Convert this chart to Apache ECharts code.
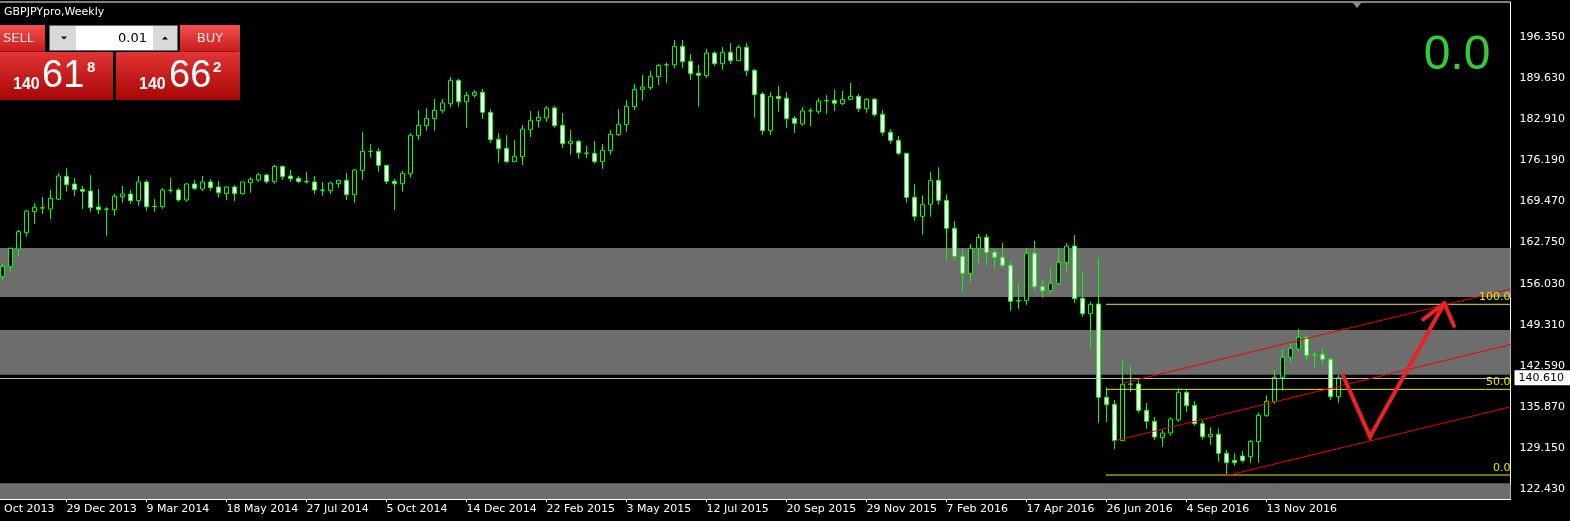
<!DOCTYPE html>
<html>
<head>
<meta charset="utf-8">
<script src="https://cdn.jsdelivr.net/npm/echarts@6/dist/echarts.min.js"></script>
<style>
html,body{margin:0;padding:0;background:#000;}
#chart{width:1570px;height:521px;}
</style>
</head>
<body>
<div id="chart"></div>
<script>
// ---- data (weekly GBPJPY) ----
const firstWeek = '2013-10-20';   // first category (label partly cut off)
const leadEmpty = 2;              // empty weeks before first candle
const totalWeeks = 191;           // categories incl. future space
const opens = [157.17,158.80,161.70,164.37,167.81,168.45,168.25,169.84,173.60,172.34,171.47,171.19,168.58,168.25,168.13,170.26,170.70,169.61,172.67,168.69,168.62,171.31,171.36,169.72,172.34,171.52,172.67,171.85,170.75,171.85,170.75,172.55,172.99,173.81,172.72,175.24,173.65,173.27,172.72,172.67,171.36,171.24,172.39,172.94,170.59,174.58,177.69,177.69,175.40,172.78,172.39,174.03,180.25,181.88,183.03,184.34,185.48,189.31,185.81,186.86,187.35,184.07,179.66,178.18,175.99,176.81,181.23,182.70,183.14,184.78,181.95,178.94,179.33,177.40,177.36,175.99,177.79,180.41,182.05,184.99,187.84,188.10,189.90,191.86,191.86,194.88,192.42,190.46,190.06,193.78,192.03,193.90,192.52,194.71,190.95,187.07,181.06,186.69,186.37,183.09,182.16,184.29,184.17,185.97,186.04,185.48,186.20,186.69,184.66,186.20,183.75,180.80,179.49,177.36,170.16,167.05,169.02,172.94,169.67,165.09,160.51,157.72,161.82,163.62,161.16,160.34,159.04,153.24,153.24,161.00,155.53,154.87,156.02,159.46,162.19,153.63,151.11,152.70,137.43,136.28,130.33,139.61,139.61,135.30,133.50,130.82,131.59,133.71,138.25,136.12,133.11,130.98,131.37,128.26,127.12,127.82,127.71,130.17,134.41,136.71,140.70,143.98,145.33,147.25,144.40,144.47,143.65,137.53];
const closes = [158.80,161.82,164.53,167.92,168.53,168.40,170.00,173.65,172.23,171.41,171.15,168.46,168.13,168.22,170.33,170.70,169.61,172.67,168.62,168.66,171.36,171.33,169.72,172.34,171.64,172.67,171.73,170.92,171.85,170.75,172.67,173.11,173.86,172.72,175.24,173.55,173.20,172.72,172.67,171.36,171.33,172.50,172.94,170.59,174.63,177.69,177.66,175.40,172.78,172.39,174.09,180.31,181.95,183.09,184.40,185.60,189.31,185.81,186.86,187.35,184.07,179.59,178.12,175.99,176.87,181.34,182.77,183.26,184.78,181.88,178.94,179.33,177.46,177.37,175.99,177.86,180.47,182.11,185.06,187.84,188.21,189.97,191.77,191.83,194.88,192.36,190.39,190.13,193.78,192.03,193.90,192.52,194.71,190.88,186.95,181.06,186.69,186.30,183.03,182.27,184.29,184.32,185.92,186.00,185.55,186.20,186.69,184.66,186.20,183.68,180.80,179.49,177.36,170.16,167.05,169.02,172.94,169.67,165.09,160.51,157.72,161.82,163.62,161.16,160.34,159.04,153.14,153.21,161.00,155.53,154.87,156.09,159.53,162.19,153.57,151.11,152.65,137.43,136.22,130.33,139.56,139.58,135.30,133.50,130.93,131.59,133.88,138.25,136.05,133.11,130.98,131.37,128.26,126.73,126.73,127.05,130.23,134.48,136.77,140.70,143.98,145.45,147.25,144.30,144.37,143.65,137.53,140.61];
const lows = [156.63,157.99,160.44,163.71,165.79,167.43,166.61,169.72,171.08,170.38,168.25,167.76,167.43,163.88,167.15,169.28,169.07,168.79,167.97,167.76,168.25,170.92,169.44,169.44,171.36,171.19,171.24,170.10,169.72,169.56,170.59,170.92,172.72,172.39,172.39,172.99,172.67,172.50,172.45,170.70,170.38,170.70,171.69,169.72,169.28,172.99,176.65,174.35,172.34,168.08,171.08,173.37,179.54,181.06,181.06,183.91,184.94,184.99,181.55,186.46,182.98,179.10,175.83,175.83,175.95,175.45,180.03,181.55,182.49,181.55,178.23,177.13,176.48,176.60,175.66,174.84,177.13,180.20,180.90,184.45,185.97,187.73,188.54,188.92,191.33,191.37,189.36,184.99,189.69,191.65,191.00,191.98,192.45,190.06,183.19,180.36,180.36,184.17,181.55,180.69,181.88,181.83,183.80,183.80,184.29,185.27,186.15,184.12,184.01,183.35,180.25,178.94,177.04,169.28,166.34,164.04,166.99,168.95,159.79,159.90,154.71,156.25,159.45,158.97,158.48,158.71,151.60,151.93,152.58,154.87,153.73,154.38,155.76,158.05,152.91,150.62,145.38,133.27,133.39,128.92,130.30,138.35,134.91,132.29,130.44,129.34,131.15,133.43,135.07,132.78,130.49,129.67,126.89,124.88,126.18,126.73,126.64,126.73,134.25,136.33,138.51,143.09,144.89,143.53,142.34,142.72,136.99,136.55];
const highs = [159.36,161.91,164.81,168.08,169.18,170.21,171.36,174.09,174.96,173.32,172.01,173.81,171.52,168.53,170.70,172.01,171.36,173.65,172.99,169.88,171.69,173.37,171.64,172.50,172.99,173.65,173.11,172.83,171.96,172.18,172.70,173.43,174.19,174.00,175.45,175.34,174.63,173.65,174.30,173.65,172.67,172.72,172.99,174.14,174.80,180.85,178.89,178.23,175.45,173.16,174.47,180.69,184.45,184.78,186.25,186.25,189.85,189.53,187.40,187.73,187.89,184.57,180.69,180.31,179.54,182.00,184.29,184.29,185.11,185.11,183.96,181.18,179.54,178.56,179.38,178.89,181.18,184.61,186.09,188.66,190.18,190.84,192.03,192.26,195.91,195.91,193.62,191.82,194.44,194.06,194.76,195.42,195.09,195.42,191.16,187.40,187.40,188.38,187.40,183.47,184.94,184.78,186.42,186.86,187.73,187.56,188.87,187.07,186.42,186.42,184.45,181.29,180.20,177.41,172.34,170.49,174.30,175.07,170.65,166.28,161.70,162.52,164.15,164.15,161.70,162.68,159.69,155.97,161.86,163.01,156.79,158.59,161.70,162.68,164.00,158.10,153.03,160.23,139.06,136.99,143.37,142.55,140.26,136.50,134.20,132.08,134.15,138.90,138.58,136.82,133.66,132.52,132.36,128.80,128.26,128.64,130.44,134.97,137.74,141.90,145.33,146.37,148.61,147.35,144.89,145.45,143.98,141.13];
const yTicks = [122.43,129.15,135.87,142.59,149.31,156.03,162.75,169.47,176.19,182.91,189.63,196.35];
const yMin = 120.784, yMax = 202.128;
const currentPrice = 140.61;
const zones = [[161.86,153.85],[148.44,141.13],[123.35,120.784]];
const fibLevels = [{name:'100.0', price:152.65},{name:'50.0', price:138.73},{name:'0.0', price:124.71}];
const fibStart = 140;
const channels = [[[142,139.73],[190.5,155.17]],[[141,130.31],[190.5,146.07]],[[155,124.60],[190.5,135.86]]];
const zigzag = [[169.53,141.08],[172.94,130.98],[182.23,152.81]];
const arrowHead = [[179.60,150.19],[182.23,152.81],[183.44,149.10]];

// ---- build ----
const MON = ['Jan','Feb','Mar','Apr','May','Jun','Jul','Aug','Sep','Oct','Nov','Dec'];
const t0 = Date.parse(firstWeek + 'T00:00:00Z');
const categories = [];
for (let i = 0; i < totalWeeks; i++) {
  const d = new Date(t0 + i * 7 * 86400000);
  categories.push(d.getUTCDate() + ' ' + MON[d.getUTCMonth()] + ' ' + d.getUTCFullYear());
}
const candles = opens.map((o, i) => [i + leadEmpty, o, closes[i], lows[i], highs[i]]);
const lastBar = leadEmpty + opens.length - 1;
const showLabel = (idx) => idx % 10 === 0 && idx <= lastBar;
const FONT = 'DejaVu Sans';
const WHITE = '#ffffff';

const series = [];
series.push({
  type: 'line', xAxisIndex: 1, yAxisIndex: 0, data: [], z: 1, silent: true,
  markArea: { silent: true, itemStyle: { color: '#6d6d6d' },
    data: zones.map(z => [{ yAxis: z[0] }, { yAxis: z[1] }]) }
});
series.push({
  type: 'candlestick', xAxisIndex: 0, yAxisIndex: 0, data: candles,
  encode: { x: 0, y: [1, 2, 3, 4] }, barWidth: 4, z: 3,
  itemStyle: { color: '#000000', color0: '#ffffff', borderColor: '#00ff00', borderColor0: '#00ff00', borderWidth: 1 },
  markLine: {
    silent: true, symbol: ['none', 'none'], z: 4,
    lineStyle: { color: '#b4bcc6', width: 1, type: 'solid' },
    label: { show: true, position: 'end', formatter: currentPrice.toFixed(3), backgroundColor: '#ffffff', color: '#000000',
      fontSize: 11, fontFamily: FONT, padding: [2, 6, 2, 4], distance: 4 },
    data: [{ yAxis: currentPrice }]
  }
});
fibLevels.forEach(f => {
  series.push({
    type: 'line', xAxisIndex: 1, yAxisIndex: 0, z: 4, silent: true,
    symbol: 'circle', symbolSize: 1, itemStyle: { color: '#e8e800' },
    lineStyle: { color: '#e8e800', width: 1 },
    data: [[fibStart, f.price], { value: [190.5, f.price],
      label: { show: true, formatter: f.name, position: 'top', align: 'right', distance: 1,
        color: '#e8e800', fontSize: 11, fontFamily: FONT } }]
  });
});
channels.forEach(c => {
  series.push({
    type: 'line', xAxisIndex: 1, yAxisIndex: 0, z: 4, silent: true, symbol: 'none',
    lineStyle: { color: '#f00000', width: 1 }, data: c
  });
});
series.push({
  type: 'line', xAxisIndex: 1, yAxisIndex: 0, z: 5, silent: true, symbol: 'none',
  lineStyle: { color: '#ee2027', width: 4, cap: 'round', join: 'miter' }, data: zigzag
});
series.push({
  type: 'line', xAxisIndex: 1, yAxisIndex: 0, z: 5, silent: true, symbol: 'none',
  lineStyle: { color: '#ee2027', width: 4, cap: 'round', join: 'miter' }, data: arrowHead
});

const chart = echarts.init(document.getElementById('chart'), null, { renderer: 'canvas' });
const redTop = new echarts.graphic.LinearGradient(0, 0, 0, 1, [{ offset: 0, color: '#f25050' }, { offset: 1, color: '#c81a1a' }]);
const redBig = new echarts.graphic.LinearGradient(0, 0, 0, 1, [{ offset: 0, color: '#e23434' }, { offset: 1, color: '#a80606' }]);
const txt = (text, x, y, font, fill, align) => ({ type: 'text', z: 101,
  style: { text, x, y, font, fill, textAlign: align || 'left', textVerticalAlign: 'middle' } });

chart.setOption({
  animation: false,
  backgroundColor: '#000000',
  grid: { left: -17.5, top: 2, width: 1528, height: 497, show: true, borderColor: WHITE, borderWidth: 1,
    backgroundColor: '#000000', containLabel: false, outerBoundsMode: 'none' },
  xAxis: [{
    type: 'category', data: categories, boundaryGap: true,
    axisLine: { show: true, lineStyle: { color: WHITE } },
    axisTick: { show: true, alignWithLabel: true, interval: (i) => showLabel(i), length: 3, lineStyle: { color: WHITE } },
    axisLabel: { interval: (i) => showLabel(i), align: 'left', color: WHITE, fontSize: 11, fontFamily: FONT, margin: 5 },
    splitLine: { show: false }
  }, {
    type: 'value', min: -0.5, max: totalWeeks - 0.5, show: false, position: 'top'
  }],
  yAxis: [{
    type: 'value', position: 'right', min: yMin, max: yMax, scale: true,
    splitLine: { show: false },
    axisLine: { show: true, lineStyle: { color: WHITE } },
    axisTick: { show: true, length: 4, customValues: yTicks, lineStyle: { color: WHITE } },
    axisLabel: { customValues: yTicks, formatter: (v) => v.toFixed(3), color: WHITE, fontSize: 11, fontFamily: FONT, margin: 9 }
  }],
  series: series,
  graphic: [
    txt('GBPJPYpro,Weekly', 4, 12, '11px "DejaVu Sans"', '#ffffff'),
    { type: 'polygon', z: 101, shape: { points: [[1352, 2], [1362, 2], [1357, 8]] }, style: { fill: '#8c8c8c' } },
    txt('0.0', 1457, 56, '48px "Liberation Sans"', '#33cc33', 'center'),
    { type: 'rect', z: 100, shape: { x: 0, y: 25, width: 45, height: 27 }, style: { fill: redTop } },
    { type: 'line', z: 101, shape: { x1: 0, y1: 51.5, x2: 44, y2: 51.5 }, style: { stroke: '#8c1010', lineWidth: 1 } },
    txt('SELL', 3, 38.5, '13px "DejaVu Sans"', '#ffe6e6'),
    { type: 'rect', z: 100, shape: { x: 49.5, y: 25.5, width: 128, height: 25 }, style: { fill: '#d9d9d9', stroke: '#6a6a6a', lineWidth: 1 } },
    { type: 'rect', z: 101, shape: { x: 76, y: 26, width: 77, height: 24 }, style: { fill: '#ffffff' } },
    { type: 'polygon', z: 102, shape: { points: [[61, 36.5], [67, 36.5], [64, 39.5]] }, style: { fill: '#000000' } },
    { type: 'polygon', z: 102, shape: { points: [[162, 39.5], [168, 39.5], [165, 36.5]] }, style: { fill: '#000000' } },
    txt('0.01', 147, 38.5, '13px "DejaVu Sans"', '#000000', 'right'),
    { type: 'rect', z: 100, shape: { x: 180, y: 25, width: 60, height: 27 }, style: { fill: redTop } },
    { type: 'line', z: 101, shape: { x1: 184, y1: 51.5, x2: 236, y2: 51.5 }, style: { stroke: '#8c1010', lineWidth: 1 } },
    txt('BUY', 210, 38.5, '13px "DejaVu Sans"', '#ffe6e6', 'center'),
    { type: 'rect', z: 100, shape: { x: 0, y: 52, width: 113, height: 48 }, style: { fill: redBig } },
    { type: 'rect', z: 100, shape: { x: 116, y: 52, width: 124, height: 48 }, style: { fill: redBig } },
    txt('140', 13, 84.5, 'bold 16px "Liberation Sans"', '#ffffff'),
    txt('61', 42, 76.5, '38px "Liberation Sans"', '#ffffff'),
    txt('8', 87, 67.5, 'bold 15px "Liberation Sans"', '#ffffff'),
    txt('140', 139, 84.5, 'bold 16px "Liberation Sans"', '#ffffff'),
    txt('66', 169, 76.5, '38px "Liberation Sans"', '#ffffff'),
    txt('2', 213, 67.5, 'bold 15px "Liberation Sans"', '#ffffff')
  ]
});
</script>
</body>
</html>
